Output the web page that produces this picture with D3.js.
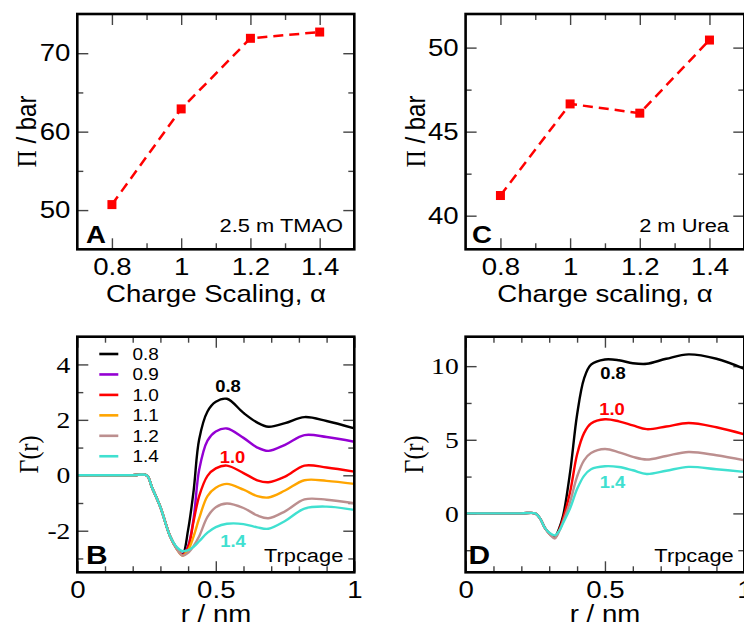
<!DOCTYPE html>
<html><head><meta charset="utf-8">
<script src="https://cdn.jsdelivr.net/npm/d3@7"></script>
<style>html,body{margin:0;padding:0;background:#fff;}svg{display:block;}</style>
</head><body>
<script>
// ---------- data ----------
const alphaTMAO = [0.8, 1.0, 1.2, 1.4];
const piTMAO = [50.7, 62.9, 71.9, 72.7];
const alphaUrea = [0.8, 1.0, 1.2, 1.4];
const piUrea = [41.2, 46.65, 46.1, 50.45];

const rB = [0, 0.1, 0.2, 0.25, 0.27, 0.30, 0.335, 0.36, 0.38, 0.40, 0.42, 0.44, 0.47, 0.50, 0.54, 0.60, 0.65, 0.69, 0.75, 0.82, 0.90, 1.0];
const gB08 = [0, 0, 0, 0, -0.45, -1.15, -2.2, -2.65, -2.85, -1.97, -0.55, 1.3, 2.3, 2.65, 2.76, 2.25, 1.9, 1.75, 1.88, 2.1, 1.96, 1.69];
const gB09 = [0, 0, 0, 0, -0.45, -1.15, -2.2, -2.65, -2.87, -2.55, -1.55, 0.2, 1.25, 1.58, 1.69, 1.35, 1.0, 0.88, 1.1, 1.45, 1.38, 1.21];
const gB10 = [0, 0, 0, 0, -0.45, -1.15, -2.2, -2.66, -2.88, -2.6, -1.65, -0.75, -0.02, 0.25, 0.35, 0.08, -0.18, -0.25, -0.05, 0.35, 0.28, 0.13];
const gB11 = [0, 0, 0, 0, -0.45, -1.15, -2.2, -2.67, -2.9, -2.7, -2.2, -1.55, -0.75, -0.45, -0.31, -0.52, -0.75, -0.8, -0.55, -0.18, -0.2, -0.31];
const gB12 = [0, 0, 0, 0, -0.45, -1.15, -2.2, -2.68, -2.9, -2.8, -2.55, -2.2, -1.5, -1.15, -1.02, -1.18, -1.45, -1.55, -1.3, -0.87, -0.88, -1.01];
const gB14 = [0, 0, 0, 0, -0.45, -1.15, -2.2, -2.6, -2.74, -2.7, -2.58, -2.38, -2.07, -1.87, -1.75, -1.76, -1.88, -1.93, -1.65, -1.2, -1.13, -1.25];

const rD = [0, 0.1, 0.2, 0.25, 0.267, 0.285, 0.303, 0.32, 0.335, 0.35, 0.375, 0.40, 0.425, 0.45, 0.50, 0.55, 0.60, 0.65, 0.72, 0.80, 0.90, 1.0];
const gD08 = [0, 0, 0, 0, -0.34, -1.0, -1.4, -1.6, -1.05, -0.15, 2.8, 6.7, 9.15, 10.1, 10.45, 10.4, 10.2, 10.16, 10.5, 10.8, 10.5, 9.82];
const gD10 = [0, 0, 0, 0, -0.34, -1.0, -1.42, -1.65, -1.15, -0.35, 1.46, 4.0, 5.45, 6.1, 6.39, 6.25, 5.98, 5.72, 5.9, 6.14, 5.85, 5.37];
const gD12 = [0, 0, 0, 0, -0.34, -1.0, -1.45, -1.7, -1.25, -0.55, 0.79, 2.5, 3.6, 4.1, 4.37, 4.15, 3.84, 3.66, 3.9, 4.17, 3.95, 3.61];
const gD14 = [0, 0, 0, 0, -0.34, -1.0, -1.35, -1.5, -1.2, -0.65, 0.34, 1.65, 2.55, 3.0, 3.2, 3.15, 2.93, 2.68, 2.9, 3.16, 3.0, 2.82];

const legendLabels = ["0.8", "0.9", "1.0", "1.1", "1.2", "1.4"];
const seriesColors = ["#000000", "#9400d3", "#ff0000", "#ffa500", "#bc8f8f", "#40e0d0"];

const ticksAlpha = [0.8, 1.0, 1.2, 1.4];
const ticksAlphaMinor = [0.9, 1.1, 1.3];
const ticksTMAO = [50, 60, 70];
const ticksTMAOMinor = [55, 65];
const ticksUrea = [40, 45, 50];
const ticksUreaMinor = [42.5, 47.5];
const ticksR = [0, 0.5, 1];
const ticksRMinor = [0.1, 0.2, 0.3, 0.4, 0.6, 0.7, 0.8, 0.9];
const ticksGB = [-2, 0, 2, 4];
const ticksGBMinor = [-3, -1, 1, 3];
const ticksGD = [0, 5, 10];
const ticksGDMinor = [-2.5, 2.5, 7.5];

// ---------- setup ----------
const W = 744, H = 630, SX = 1.15;
const SANS = "'Liberation Sans', Arial, Helvetica, sans-serif";
const SERIF = "'Liberation Serif', 'Times New Roman', serif";
const svg = d3.select("body").append("svg").attr("width", W).attr("height", H);

function label(g, x, y, s, o) {
  return g.append("text")
    .attr("transform", `translate(${x},${y}) scale(${SX},1)` + (o.rot ? ` rotate(${o.rot})` : ""))
    .attr("font-family", o.fam || SANS).attr("font-size", o.size)
    .attr("font-weight", o.w || "normal").attr("text-anchor", o.anchor || "start")
    .attr("fill", o.fill || "#000").text(s);
}

function panel(box, xd, yd, xt, xm, yt, ym, xfmt, yfmt, yfam) {
  const x = d3.scaleLinear().domain(xd).range([box.x0, box.x1]);
  const y = d3.scaleLinear().domain(yd).range([box.y1, box.y0]);
  const g = svg.append("g");
  const tickStyle = sel => {
    sel.select(".domain").remove();
    sel.selectAll("line").attr("stroke", "#444").attr("stroke-width", 1.4);
  };
  g.append("g").attr("transform", `translate(0,${box.y1})`)
    .call(d3.axisBottom(x).tickValues(xt).tickSize(-11).tickPadding(9).tickFormat(xfmt))
    .call(tickStyle)
    .call(s => s.selectAll("text").attr("font-family", SANS).attr("font-size", 24).attr("fill", "#000")
      .attr("transform", `scale(${SX},1)`));
  g.append("g").attr("transform", `translate(0,${box.y1})`)
    .call(d3.axisBottom(x).tickValues(xm).tickSize(-6).tickFormat("")).call(tickStyle);
  g.append("g").attr("transform", `translate(0,${box.y0})`)
    .call(d3.axisTop(x).tickValues(xt).tickSize(-11).tickFormat("")).call(tickStyle);
  g.append("g").attr("transform", `translate(0,${box.y0})`)
    .call(d3.axisTop(x).tickValues(xm).tickSize(-6).tickFormat("")).call(tickStyle);
  g.append("g").attr("transform", `translate(${box.x0},0)`)
    .call(d3.axisLeft(y).tickValues(yt).tickSize(-11).tickPadding(6).tickFormat(yfmt))
    .call(tickStyle)
    .call(s => s.selectAll("text").attr("font-family", yfam).attr("font-size", 24).attr("fill", "#000")
      .attr("transform", `scale(${SX},1)`));
  g.append("g").attr("transform", `translate(${box.x0},0)`)
    .call(d3.axisLeft(y).tickValues(ym).tickSize(-6).tickFormat("")).call(tickStyle);
  g.append("g").attr("transform", `translate(${box.x1},0)`)
    .call(d3.axisRight(y).tickValues(yt).tickSize(-11).tickFormat("")).call(tickStyle);
  g.append("g").attr("transform", `translate(${box.x1},0)`)
    .call(d3.axisRight(y).tickValues(ym).tickSize(-6).tickFormat("")).call(tickStyle);
  return { x, y, g };
}
function frame(box) {
  svg.append("rect").attr("x", box.x0).attr("y", box.y0)
    .attr("width", box.x1 - box.x0).attr("height", box.y1 - box.y0)
    .attr("fill", "none").attr("stroke", "#000").attr("stroke-width", 2.6);
}

const boxA = { x0: 77.3, x1: 354.3, y0: 14, y1: 249.3 };
const boxC = { x0: 465.6, x1: 744.3, y0: 14, y1: 249.3 };
const boxB = { x0: 77.3, x1: 354.3, y0: 336.7, y1: 572.3 };
const boxD = { x0: 465.6, x1: 744.3, y0: 336.7, y1: 572.3 };

const fmtAlpha = d => (d === 1 ? "1" : d3.format(".1f")(d));
const fmtR = d => (d === 0 ? "0" : d === 1 ? "1" : "0.5");
const fmtInt = d => String(d);

// ---------- Panel A ----------
{
  const p = panel(boxA, [0.7, 1.5], [45, 75], ticksAlpha, ticksAlphaMinor, ticksTMAO, ticksTMAOMinor, fmtAlpha, fmtInt, SANS);
  const pts = alphaTMAO.map((a, i) => [a, piTMAO[i]]);
  svg.append("path").datum(pts).attr("fill", "none").attr("stroke", "#ff0000").attr("stroke-width", 2.5)
    .attr("stroke-dasharray", "10,6").attr("d", d3.line().x(d => p.x(d[0])).y(d => p.y(d[1])));
  svg.append("g").selectAll("rect").data(pts).join("rect")
    .attr("x", d => p.x(d[0]) - 4.5).attr("y", d => p.y(d[1]) - 4.5).attr("width", 9).attr("height", 9).attr("fill", "#ff0000");
  frame(boxA);
  label(svg, 86, 242.7, "A", { size: 24, w: "bold" });
  label(svg, 343, 231.7, "2.5 m TMAO", { size: 19, anchor: "end" });
  label(svg, 216, 302, "Charge Scaling, \u03b1", { size: 24, anchor: "middle" });
  const t = label(svg, 36, 131.6, "", { size: 24, anchor: "middle", rot: -90 });
  t.append("tspan").attr("font-family", SERIF).text("\u03a0");
  t.append("tspan").text(" / bar");
}

// ---------- Panel C ----------
{
  const p = panel(boxC, [0.7, 1.5], [38, 52], ticksAlpha, ticksAlphaMinor, ticksUrea, ticksUreaMinor, fmtAlpha, fmtInt, SANS);
  const pts = alphaUrea.map((a, i) => [a, piUrea[i]]);
  svg.append("path").datum(pts).attr("fill", "none").attr("stroke", "#ff0000").attr("stroke-width", 2.5)
    .attr("stroke-dasharray", "10,6").attr("d", d3.line().x(d => p.x(d[0])).y(d => p.y(d[1])));
  svg.append("g").selectAll("rect").data(pts).join("rect")
    .attr("x", d => p.x(d[0]) - 4.5).attr("y", d => p.y(d[1]) - 4.5).attr("width", 9).attr("height", 9).attr("fill", "#ff0000");
  frame(boxC);
  label(svg, 472, 242.5, "C", { size: 24, w: "bold" });
  label(svg, 729, 231.7, "2 m Urea", { size: 19, anchor: "end" });
  label(svg, 605, 302, "Charge scaling, \u03b1", { size: 24, anchor: "middle" });
  const t = label(svg, 425, 131.6, "", { size: 24, anchor: "middle", rot: -90 });
  t.append("tspan").attr("font-family", SERIF).text("\u03a0");
  t.append("tspan").text(" / bar");
}

// ---------- Panel B ----------
{
  const p = panel(boxB, [0, 1], [-3.5, 5], ticksR, ticksRMinor, ticksGB, ticksGBMinor, fmtR, fmtInt, SERIF);
  const series = [gB08, gB09, gB10, gB11, gB12, gB14];
  const line = d3.line().x((d, i) => p.x(rB[i])).y(d => p.y(d)).curve(d3.curveCatmullRom.alpha(0.5));
  series.forEach((s, k) => {
    svg.append("path").datum(s).attr("fill", "none").attr("stroke", seriesColors[k])
      .attr("stroke-width", 2.4).attr("d", line);
  });
  frame(boxB);
  legendLabels.forEach((l, k) => {
    const yy = 354 + k * 20.45;
    svg.append("line").attr("x1", 99.3).attr("x2", 118.3).attr("y1", yy).attr("y2", yy)
      .attr("stroke", seriesColors[k]).attr("stroke-width", 2.6);
    label(svg, 132.5, yy + 6, l, { size: 16.5 });
  });
  label(svg, 228, 391.7, "0.8", { size: 16, w: "bold", anchor: "middle", fill: seriesColors[0] });
  label(svg, 232.5, 463.3, "1.0", { size: 16, w: "bold", anchor: "middle", fill: seriesColors[2] });
  label(svg, 233, 546.7, "1.4", { size: 16, w: "bold", anchor: "middle", fill: seriesColors[5] });
  label(svg, 343.3, 561.7, "Trpcage", { size: 19, anchor: "end" });
  label(svg, 86, 564, "B", { size: 26, w: "bold" });
  label(svg, 216, 622, "r / nm", { size: 24, anchor: "middle" });
  label(svg, 38, 454.5, "\u0393(r)", { size: 24, anchor: "middle", rot: -90, fam: SERIF });
}

// ---------- Panel D ----------
{
  const p = panel(boxD, [0, 1], [-4, 12], ticksR, ticksRMinor, ticksGD, ticksGDMinor, fmtR, fmtInt, SERIF);
  const series = [gD08, gD10, gD12, gD14];
  const cols = [seriesColors[0], seriesColors[2], seriesColors[4], seriesColors[5]];
  const line = d3.line().x((d, i) => p.x(rD[i])).y(d => p.y(d)).curve(d3.curveCatmullRom.alpha(0.5));
  series.forEach((s, k) => {
    svg.append("path").datum(s).attr("fill", "none").attr("stroke", cols[k])
      .attr("stroke-width", 2.4).attr("d", line);
  });
  frame(boxD);
  label(svg, 613, 379, "0.8", { size: 16, w: "bold", anchor: "middle", fill: seriesColors[0] });
  label(svg, 612, 415, "1.0", { size: 16, w: "bold", anchor: "middle", fill: seriesColors[2] });
  label(svg, 612.5, 488.3, "1.4", { size: 16, w: "bold", anchor: "middle", fill: seriesColors[5] });
  label(svg, 733.7, 561.7, "Trpcage", { size: 19, anchor: "end" });
  label(svg, 468.5, 564, "D", { size: 26, w: "bold" });
  label(svg, 605, 622, "r / nm", { size: 24, anchor: "middle" });
  label(svg, 423, 454.5, "\u0393(r)", { size: 24, anchor: "middle", rot: -90, fam: SERIF });
}
</script>
</body></html>
